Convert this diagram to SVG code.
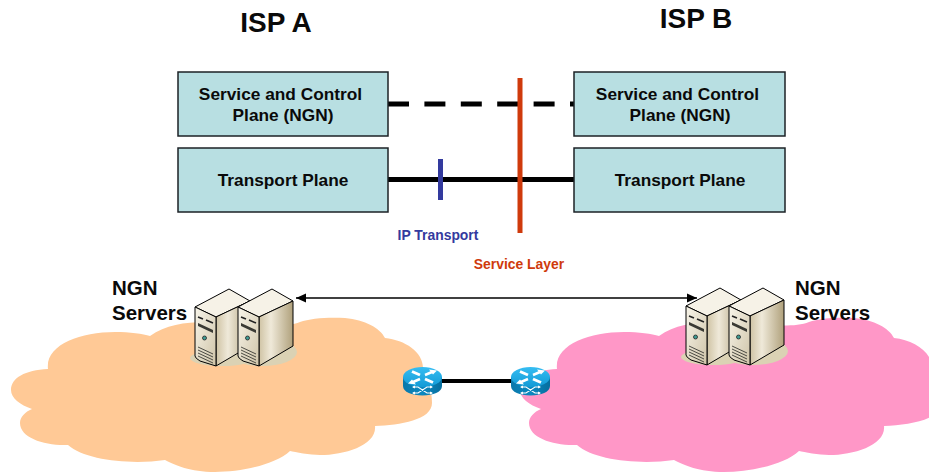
<svg xmlns="http://www.w3.org/2000/svg" width="929" height="472" viewBox="0 0 929 472">
<style>
text{font-family:"Liberation Sans",Arial,sans-serif;font-weight:700;fill:#0a0a0a;text-anchor:middle}
.box{fill:#b8dfe2;stroke:#1c2226;stroke-width:1.5}
.t{font-size:17.3px}.h{font-size:28px}.n{font-size:20.500px;text-anchor:start}
.s{font-size:13.900px}
.wire{stroke:#000;fill:none;stroke-width:5}
</style>
<defs>
<path id="cloud" d="M48,369C45,345 80,332 115,332C130,332 143,334 150,336C165,325 185,322 205,322C240,322 280,330 300,322C310,318 330,317 345,318C365,320 380,328 385,338C405,340 423,352 423,368C428,378 432,390 432,403C432,420 400,425 375,426C377,445 345,455 320,455C310,455 295,452 290,451C275,465 240,472 215,472C190,472 175,465 165,460C130,465 85,460 68,445C45,446 20,438 20,423C20,417 25,412 32,409C20,405 11,398 11,390C11,378 25,370 48,369Z"/>
<linearGradient id="front" x1="0" y1="0" x2="1" y2="1"><stop offset="0" stop-color="#f8f5ea"/><stop offset="1" stop-color="#cfc4a8"/></linearGradient>
<linearGradient id="side" x1="0" y1="0" x2="1" y2="0"><stop offset="0" stop-color="#cfc3a4"/><stop offset=".35" stop-color="#efe9d9"/><stop offset="1" stop-color="#b0a17c"/></linearGradient>
<linearGradient id="rt" x1="0" y1="0" x2="0" y2="1"><stop offset="0" stop-color="#36bdf2"/><stop offset="1" stop-color="#129ad6"/></linearGradient>
<linearGradient id="rs" x1="0" y1="0" x2="1" y2="0"><stop offset="0" stop-color="#0a78aa"/><stop offset=".5" stop-color="#0b88c0"/><stop offset="1" stop-color="#076e9e"/></linearGradient>
<g id="server" stroke-linejoin="round">
<path d="M0,307L34,289L55,301L21,317Z" fill="#f6f2e7" stroke="#000" stroke-width="1"/>
<path d="M21,317L55,301V346L21,366Z" fill="url(#side)" stroke="#000" stroke-width="1"/>
<path d="M0,307L21,317V366L5,361Q0,358 0,356Z" fill="url(#front)" stroke="#000" stroke-width="1"/>
<path d="M3,317L8,319M11,320L18,323" stroke="#222" stroke-width="1.600" fill="none"/>
<path d="M3,323L18,330V333L3,326Z" fill="#3a3a34"/>
<circle cx="9.500" cy="338" r="2" fill="#3f9d95" stroke="#222" stroke-width=".8"/>
<path d="M3,347L18,354M3,350L18,357M3,353L18,360M3,356L18,363" stroke="#3a3a34" stroke-width=".9" fill="none"/>
</g>
<g id="router">
<path d="M0,10V19C0,25 9,28.500 19.500,28.500C30,28.500 39,25 39,19V10Z" fill="url(#rs)"/>
<ellipse cx="19.500" cy="10" rx="19.500" ry="10" fill="url(#rt)"/>
<path d="M17,8L9,4.500M22,12L30,15.500" stroke="#fff" stroke-width="3" fill="none"/>
<path d="M22,8L29,5M17,12L10,15" stroke="#fff" stroke-width="2.500" fill="none"/>
<path d="M26,2.500L34,3.500L30,7.500ZM13,17.500L5,16.500L9,12.500Z" fill="#fff"/>
<path d="M10,20H15L24,26H29M10,26H15L24,20H29" stroke="#fff" stroke-width="1.100" fill="none"/>
<path d="M27,18.500L30,20L27,21.500ZM27,24.500L30,26L27,27.500ZM12,18.500L9,20L12,21.500ZM12,24.500L9,26L12,27.500Z" fill="#fff"/>
</g>
<marker id="ah" markerUnits="userSpaceOnUse" markerWidth="10" markerHeight="10" refX="10" refY="5" orient="auto-start-reverse"><path d="M0,0.500L10,5L0,9.500Z" fill="#000"/></marker>
</defs>

<g id="cloud-a"><use href="#cloud" fill="#ffc996"/></g>
<g id="cloud-b"><use href="#cloud" x="509" fill="#ff97c7"/></g>

<g id="connectors">
<path class="wire" d="M388,104H574" stroke-dasharray="21 15.400"/>
<path class="wire" d="M388,179.500H574"/>
<path class="wire" d="M440.500,159V200" style="stroke:#333a9e"/>
<path class="wire" d="M520,78V233" style="stroke:#cf3a0c"/>
<path d="M296,298H697" stroke="#000" stroke-width="1.500" marker-start="url(#ah)" marker-end="url(#ah)"/>
<path class="wire" d="M441,381H511" style="stroke-width:4"/>
</g>

<g id="isp-a-title"><text class="h" x="276" y="32">ISP A</text></g>
<g id="isp-b-title"><text class="h" x="696" y="28">ISP B</text></g>
<g id="control-a"><rect class="box" x="178" y="72" width="210" height="64"/><text class="t" x="280.500" y="100">Service and Control</text><text class="t" x="283" y="121">Plane (NGN)</text></g>
<g id="control-b"><rect class="box" x="574" y="72" width="211" height="64"/><text class="t" x="677.500" y="100">Service and Control</text><text class="t" x="680" y="121">Plane (NGN)</text></g>
<g id="transport-a"><rect class="box" x="178" y="148" width="210" height="64"/><text class="t" x="283" y="186">Transport Plane</text></g>
<g id="transport-b"><rect class="box" x="574" y="148" width="211" height="64"/><text class="t" x="680" y="186">Transport Plane</text></g>
<g id="ip-transport-label"><text class="s" x="438" y="240" style="fill:#333a9e">IP Transport</text></g>
<g id="service-layer-label"><text class="s" x="519" y="269" style="fill:#cf3a0c">Service Layer</text></g>

<g id="servers-a">
<text class="n" x="112" y="295">NGN</text><text class="n" x="112" y="320">Servers</text>
<ellipse cx="262" cy="352" rx="35" ry="14" fill="#dbd2b4"/><ellipse cx="222" cy="358" rx="32" ry="8" fill="#dbd2b4"/>
<use href="#server" x="195"/><use href="#server" x="238"/>
</g>
<g id="servers-b">
<text class="n" x="795" y="295">NGN</text><text class="n" x="795" y="320">Servers</text>
<ellipse cx="753" cy="351" rx="35" ry="14" fill="#dbd2b4"/><ellipse cx="713" cy="357" rx="32" ry="8" fill="#dbd2b4"/>
<use href="#server" x="686" y="-1"/><use href="#server" x="729" y="-1"/>
</g>
<g id="router-a"><use href="#router" x="403" y="367"/></g>
<g id="router-b"><use href="#router" x="511" y="367"/></g>
</svg>
